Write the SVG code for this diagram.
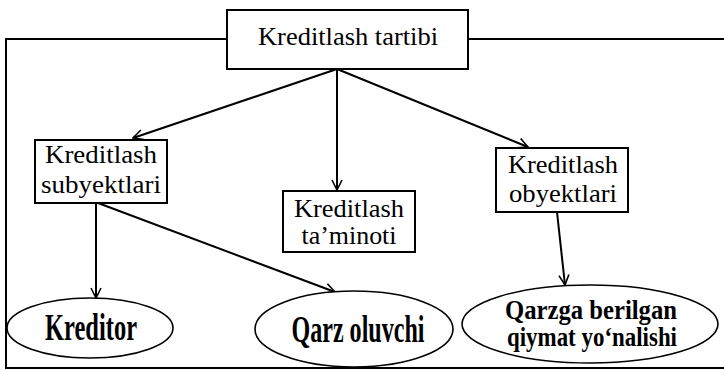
<svg xmlns="http://www.w3.org/2000/svg" width="724" height="370" viewBox="0 0 724 370">
<defs>
<style>
.box{fill:#fff;stroke:#000;stroke-width:2}
.ell{fill:#fff;stroke:#000;stroke-width:1.6}
.frame{fill:none;stroke:#000;stroke-width:2}
.t{font-family:"Liberation Serif","Times New Roman",serif;font-size:25px;fill:#000;text-anchor:middle}
.b{font-family:"Liberation Serif","Times New Roman",serif;font-weight:bold;fill:#000;text-anchor:middle}
.c{fill:none;stroke:#000;stroke-width:2}
</style>
<marker id="arr" viewBox="0 0 12 12" refX="11" refY="6" markerWidth="12" markerHeight="12" markerUnits="userSpaceOnUse" orient="auto">
<path d="M1,1 L11,6 L1,11" fill="none" stroke="#000" stroke-width="1.6"/>
</marker>
</defs>
<rect width="724" height="370" fill="#fff"/>
<g id="frame">
<path class="frame" d="M227,39 H6 V368 H724"/>
<path class="frame" d="M468,39 H724"/>
</g>
<g id="connectors">
<line class="c" x1="337" y1="69" x2="133" y2="138" marker-end="url(#arr)"/>
<line class="c" x1="337" y1="69" x2="337" y2="190" marker-end="url(#arr)"/>
<line class="c" x1="337" y1="69" x2="528" y2="147" marker-end="url(#arr)"/>
<line class="c" x1="96" y1="203" x2="96" y2="298" marker-end="url(#arr)"/>
<line class="c" x1="98" y1="203" x2="335" y2="292" marker-end="url(#arr)"/>
<line class="c" x1="557" y1="212" x2="565" y2="285" marker-end="url(#arr)"/>
</g>
<g id="n-tartibi">
<rect class="box" x="227" y="10" width="241" height="59"/>
<text class="t" x="348" y="45" textLength="180" lengthAdjust="spacingAndGlyphs">Kreditlash tartibi</text>
</g>
<g id="n-subyektlari">
<rect class="box" x="35" y="140" width="132" height="63"/>
<text class="t" x="101" y="163" textLength="112" lengthAdjust="spacingAndGlyphs">Kreditlash</text>
<text class="t" x="101" y="193" textLength="120" lengthAdjust="spacingAndGlyphs">subyektlari</text>
</g>
<g id="n-taminoti">
<rect class="box" x="283" y="191" width="132" height="61"/>
<text class="t" x="349" y="217" textLength="110" lengthAdjust="spacingAndGlyphs">Kreditlash</text>
<text class="t" x="349" y="244" textLength="95" lengthAdjust="spacingAndGlyphs">ta’minoti</text>
</g>
<g id="n-obyektlari">
<rect class="box" x="496" y="148" width="132" height="64"/>
<text class="t" x="563" y="173" textLength="110" lengthAdjust="spacingAndGlyphs">Kreditlash</text>
<text class="t" x="563" y="202" textLength="108" lengthAdjust="spacingAndGlyphs">obyektlari</text>
</g>
<g id="n-kreditor">
<ellipse class="ell" cx="90" cy="328" rx="83" ry="30"/>
<text class="b" x="91" y="340" font-size="37" textLength="92" lengthAdjust="spacingAndGlyphs">Kreditor</text>
</g>
<g id="n-qarzoluvchi">
<ellipse class="ell" cx="354" cy="329" rx="99" ry="38"/>
<text class="b" x="358" y="342" font-size="37" textLength="133" lengthAdjust="spacingAndGlyphs">Qarz oluvchi</text>
</g>
<g id="n-qiymat">
<ellipse class="ell" cx="590" cy="324" rx="128" ry="39"/>
<text class="b" x="591" y="319" font-size="27" textLength="172" lengthAdjust="spacingAndGlyphs">Qarzga berilgan</text>
<text class="b" x="592" y="346" font-size="27" textLength="170" lengthAdjust="spacingAndGlyphs">qiymat yo‘nalishi</text>
</g>
</svg>
